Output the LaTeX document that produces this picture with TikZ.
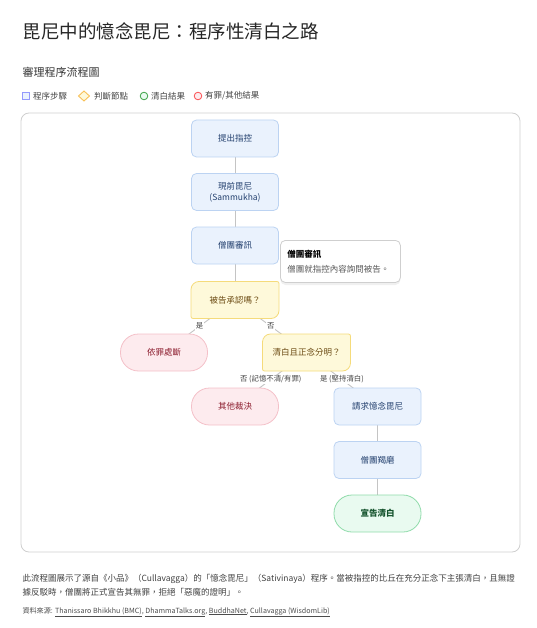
\documentclass[tikz,border=0pt]{standalone}
\usepackage{fontspec}
\setmainfont{Noto Sans CJK TC}
\usetikzlibrary{shadows}
\pgfdeclarelayer{back}
\pgfsetlayers{back,main}
\definecolor{stepfill}{HTML}{EAF2FD}
\definecolor{stepline}{HTML}{BCD3F2}
\definecolor{steptext}{HTML}{23406E}
\definecolor{askfill}{HTML}{FEF9DA}
\definecolor{askline}{HTML}{F5DB7B}
\definecolor{asktext}{HTML}{6B4A12}
\definecolor{badfill}{HTML}{FDEBEE}
\definecolor{badline}{HTML}{F4C0C8}
\definecolor{badtext}{HTML}{8C1D2E}
\definecolor{goodfill}{HTML}{E9FAF0}
\definecolor{goodline}{HTML}{8FDBAA}
\definecolor{goodtext}{HTML}{14532D}
\definecolor{linkgray}{HTML}{C4C4C4}
\definecolor{inkgray}{HTML}{444444}
\definecolor{framegray}{HTML}{CFCFCF}
\tikzset{
  stepbox/.style={draw=stepline, fill=stepfill, text=steptext, rounded corners=5pt,
    minimum width=87pt, minimum height=37pt, align=center, line width=0.8pt,
    font=\fontsize{8.5}{11}\selectfont},
  askbox/.style={text=asktext, minimum width=88pt, minimum height=37pt,
    inner sep=0pt, outer sep=0pt, font=\fontsize{8.5}{11}\selectfont},
  badend/.style={draw=badline, fill=badfill, text=badtext, rounded corners=18pt,
    minimum width=87pt, minimum height=37pt, line width=0.8pt,
    font=\fontsize{8.5}{11}\selectfont},
  goodend/.style={badend, draw=goodline, fill=goodfill, text=goodtext,
    font=\fontsize{8.5}{11}\selectfont\bfseries},
  link/.style={draw=linkgray, line width=0.9pt},
  linklabel/.style={fill=white, inner sep=1pt, text=inkgray,
    font=\fontsize{7.4}{8}\selectfont},
  keytext/.style={anchor=west, text=inkgray, font=\fontsize{8.5}{9}\selectfont},
}
\begin{document}
\begin{tikzpicture}[x=1pt,y=-1pt]
  \useasboundingbox (0,0) rectangle (537,628);
  % heading and legend
  \node[anchor=west, text=black!85, font=\fontsize{18.5}{20}\selectfont] (title) at (19,31) {毘尼中的憶念毘尼：程序性清白之路};
  \node[anchor=west, text=black!80, font=\fontsize{11}{12}\selectfont] (subtitle) at (19,72) {審理程序流程圖};
  \node[draw=stepline!40!blue!60, fill=stepfill, line width=0.8pt, minimum size=7pt, inner sep=0pt] (keystep) at (25.5,96) {};
  \node[keytext] at (29.5,96) {程序步驟};
  \draw[draw=askline!70!orange, fill=askfill, line width=0.9pt] (84,91) -- (89.5,96) -- (84,101) -- (78.5,96) -- cycle;
  \node[keytext] at (90.5,96) {判斷節點};
  \draw[draw=goodline!60!green!70!black, fill=goodfill, line width=0.8pt] (144,96) circle (3.8pt);
  \node[keytext] at (147.5,96) {清白結果};
  \draw[draw=badline!40!red, fill=badfill, line width=0.8pt] (198,96) circle (3.8pt);
  \node[keytext] at (201.5,96) {有罪/其他結果};
  % frame
  \draw[framegray, line width=0.8pt, rounded corners=8pt] (21,113) rectangle (520,552);
  % flow
  \node[stepbox] (accuse) at (235,138.5) {提出指控};
  \node[stepbox] (present) at (235,192) {現前毘尼\\(Sammukha)};
  \node[stepbox] (hearing) at (235,245.5) {僧團審訊};
  \node[askbox] (admit) at (235,300) {被告承認嗎？};
  \node[badend] (guilty) at (164,352.5) {依罪處斷};
  \node[askbox] (clear) at (306.5,352.5) {清白且正念分明？};
  \node[badend] (other) at (235,406.5) {其他裁決};
  \node[stepbox] (request) at (377.5,406.5) {請求憶念毘尼};
  \node[stepbox] (motion) at (377.5,460) {僧團羯磨};
  \node[goodend] (acquit) at (377.5,513.5) {宣告清白};
  \node[anchor=north west, draw=framegray, fill=white, rounded corners=5pt, line width=0.8pt,
    drop shadow={opacity=0.12, shadow xshift=0pt, shadow yshift=-2.5pt},
    text width=106pt, inner xsep=7pt, inner ysep=9.5pt, align=left,
    font=\fontsize{8.5}{15}\selectfont] (tip) at (280,240)
    {\textbf{僧團審訊}\\{\color{black!65}僧團就指控內容詢問被告。}};
  \begin{pgfonlayer}{back}
    \draw[link] (accuse) -- (present);
    \draw[link] (present) -- (hearing);
    \draw[link] (hearing) -- (admit);
    \draw[link] (admit.center) -- node[linklabel] {是} (guilty.center);
    \draw[link] (admit.center) -- node[linklabel] {否} (clear.center);
    \draw[link] (clear.center) -- node[linklabel] {否 (記憶不清/有罪)} (other.center);
    \draw[link] (clear.center) -- node[linklabel] {是 (堅持清白)} (request.center);
    \draw[link] (request) -- (motion);
    \draw[link] (motion) -- (acquit);
    \foreach \n in {admit,clear}
      \draw[draw=askline, fill=askfill, line width=0.8pt]
        (\n.west) [rounded corners=8pt] |- (\n.north) [rounded corners=2pt] -| (\n.east)
        [rounded corners=8pt] |- (\n.south) [rounded corners=2pt] -| (\n.west) -- cycle;
  \end{pgfonlayer}
  % footer
  \node[anchor=north west, align=left, text=black!75, font=\fontsize{8.5}{13.5}\selectfont] (note) at (19,571)
    {此流程圖展示了源自《小品》（Cullavagga）的「憶念毘尼」（Sativinaya）程序。當被指控的比丘在充分正念下主張清白，且無證\\據反駁時，僧團將正式宣告其無罪，拒絕「惡魔的證明」。};
  \node[anchor=west, text=black!70, font=\fontsize{7.1}{8}\selectfont] (sources) at (19,612)
    {資料來源: \underline{Thanissaro Bhikkhu (BMC)}, \underline{DhammaTalks.org}, \underline{BuddhaNet}, \underline{Cullavagga (WisdomLib)}};
\end{tikzpicture}
\end{document}
